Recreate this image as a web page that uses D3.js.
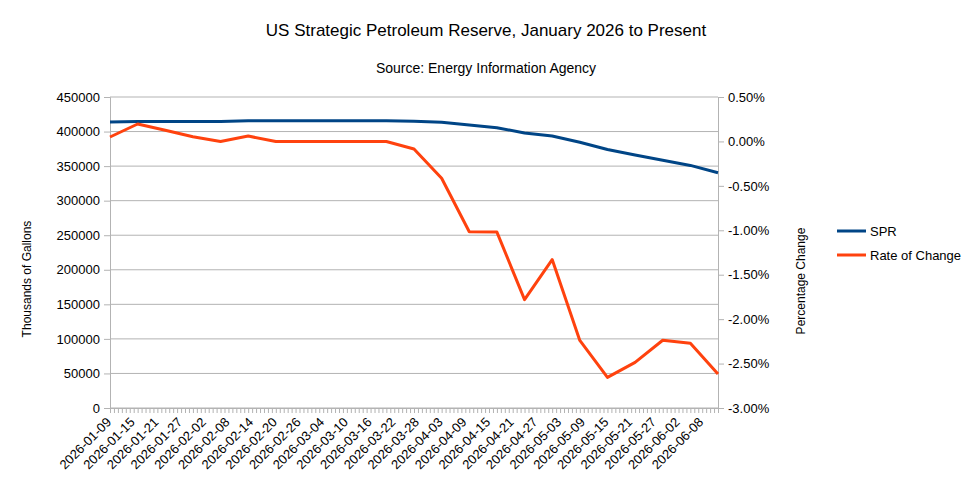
<!DOCTYPE html>
<html lang="en">
<head>
    <meta charset="UTF-8">
    <title>US Strategic Petroleum Reserve</title>
    <script src="https://d3js.org/d3.v7.min.js"></script>
    <style>
        body { margin: 0; background: #fff; }
        text { font-family: "Liberation Sans", Arial, sans-serif; }
    </style>
</head>
<body>
<script>
    // weekly readings
    var dates = ["2026-01-09", "2026-01-16", "2026-01-23", "2026-01-30", "2026-02-06",
                 "2026-02-13", "2026-02-20", "2026-02-27", "2026-03-06", "2026-03-13",
                 "2026-03-20", "2026-03-27", "2026-04-03", "2026-04-10", "2026-04-17",
                 "2026-04-24", "2026-05-01", "2026-05-08", "2026-05-15", "2026-05-22",
                 "2026-05-29", "2026-06-05", "2026-06-12"];
    var spr = [414000, 414500, 414500, 414500, 414500, 415500, 415500, 415500, 415500, 415500,
               415500, 415000, 413500, 409500, 405500, 398000, 393500, 384500, 374000, 366000,
               358500, 351000, 340500];
    var rate = [0.05, 0.196, 0.125, 0.053, 0.0, 0.06, 0.0, 0.0, 0.0, 0.0,
                0.0, -0.085, -0.415, -1.016, -1.02, -1.78, -1.33, -2.24, -2.655, -2.486,
                -2.238, -2.272, -2.617];
    var leftTicks = [0, 50000, 100000, 150000, 200000, 250000, 300000, 350000, 400000, 450000];
    var rightTicks = [0.5, 0, -0.5, -1, -1.5, -2, -2.5, -3];

    var w = 972, h = 485;
    var plotL = 110, plotR = 718, plotT = 97, plotB = 408;
    var grey = "#b3b3b3";

    var parse = d3.timeParse("%Y-%m-%d");
    var fmt = d3.timeFormat("%Y-%m-%d");
    var days = dates.map(parse);

    var svg = d3.select("body").append("svg")
        .attr("width", w)
        .attr("height", h);

    var x = d3.scaleTime()
        .domain([days[0], days[days.length - 1]])
        .range([plotL, plotR]);
    var yL = d3.scaleLinear().domain([0, 450000]).range([plotB, plotT]);
    var yR = d3.scaleLinear().domain([-3, 0.5]).range([plotB, plotT]);

    // gridlines
    svg.append("g")
        .selectAll("line")
        .data(leftTicks)
        .enter()
        .append("line")
        .attr("x1", plotL)
        .attr("x2", plotR)
        .attr("y1", function(d) { return yL(d); })
        .attr("y2", function(d) { return yL(d); })
        .attr("stroke", grey)
        .attr("stroke-width", 1);

    // left axis
    var axL = svg.append("g")
        .attr("transform", "translate(" + plotL + ",0)")
        .call(d3.axisLeft(yL).tickValues(leftTicks).tickSize(6).tickPadding(4).tickFormat(d3.format("d")));
    axL.select(".domain").attr("stroke", grey);
    axL.selectAll(".tick line").attr("stroke", grey);
    axL.selectAll("text").attr("font-size", 13).attr("fill", "#000")
        .style("font-family", "Liberation Sans, Arial, sans-serif");

    // right axis
    var axR = svg.append("g")
        .attr("transform", "translate(" + plotR + ",0)")
        .call(d3.axisRight(yR).tickValues(rightTicks).tickSize(6).tickPadding(4)
            .tickFormat(function(d) { return d.toFixed(2) + "%"; }));
    axR.select(".domain").attr("stroke", grey);
    axR.selectAll(".tick line").attr("stroke", grey);
    axR.selectAll("text").attr("font-size", 13).attr("fill", "#000")
        .style("font-family", "Liberation Sans, Arial, sans-serif");

    // bottom axis: a tick each day, a label every 6 days
    var allDays = d3.timeDay.range(days[0], d3.timeDay.offset(days[days.length - 1], 1));
    var labelDays = allDays.filter(function(d, i) { return i % 6 === 0; });

    var axB = svg.append("g")
        .attr("transform", "translate(0," + plotB + ")")
        .call(d3.axisBottom(x).tickValues(allDays).tickSize(5).tickFormat(""));
    axB.select(".domain").attr("stroke", grey);
    axB.selectAll(".tick line").attr("stroke", grey);

    svg.append("g")
        .selectAll("text")
        .data(labelDays)
        .enter()
        .append("text")
        .text(function(d) { return fmt(d); })
        .attr("transform", function(d) {
            return "translate(" + (x(d) + 2) + "," + (plotB + 15) + ") rotate(-45)";
        })
        .attr("text-anchor", "end")
        .attr("font-size", 13)
        .attr("fill", "#000");

    // lines
    var lineL = d3.line()
        .x(function(d, i) { return x(days[i]); })
        .y(function(d) { return yL(d); });
    var lineR = d3.line()
        .x(function(d, i) { return x(days[i]); })
        .y(function(d) { return yR(d); });

    svg.append("path")
        .datum(spr)
        .attr("d", lineL)
        .attr("fill", "none")
        .attr("stroke", "#004586")
        .attr("stroke-width", 3)
        .attr("stroke-linejoin", "round");

    svg.append("path")
        .datum(rate)
        .attr("d", lineR)
        .attr("fill", "none")
        .attr("stroke", "#ff420e")
        .attr("stroke-width", 3)
        .attr("stroke-linejoin", "round");

    // titles
    svg.append("text")
        .text("US Strategic Petroleum Reserve, January 2026 to Present")
        .attr("x", 486).attr("y", 36)
        .attr("text-anchor", "middle")
        .attr("font-size", 17);
    svg.append("text")
        .text("Source: Energy Information Agency")
        .attr("x", 486).attr("y", 73)
        .attr("text-anchor", "middle")
        .attr("font-size", 14);

    svg.append("text")
        .text("Thousands of Gallons")
        .attr("transform", "translate(31,279) rotate(-90)")
        .attr("text-anchor", "middle")
        .attr("font-size", 12);
    svg.append("text")
        .text("Percentage Change")
        .attr("transform", "translate(805,281) rotate(-90)")
        .attr("text-anchor", "middle")
        .attr("font-size", 12);

    // legend
    var legend = [{ name: "SPR", color: "#004586" }, { name: "Rate of Change", color: "#ff420e" }];
    var lg = svg.append("g").selectAll("g")
        .data(legend)
        .enter()
        .append("g")
        .attr("transform", function(d, i) { return "translate(837," + (231 + i * 24) + ")"; });
    lg.append("line")
        .attr("x1", 0).attr("x2", 29)
        .attr("stroke", function(d) { return d.color; })
        .attr("stroke-width", 3);
    lg.append("text")
        .text(function(d) { return d.name; })
        .attr("x", 33).attr("y", 5)
        .attr("font-size", 13);
</script>
</body>
</html>
